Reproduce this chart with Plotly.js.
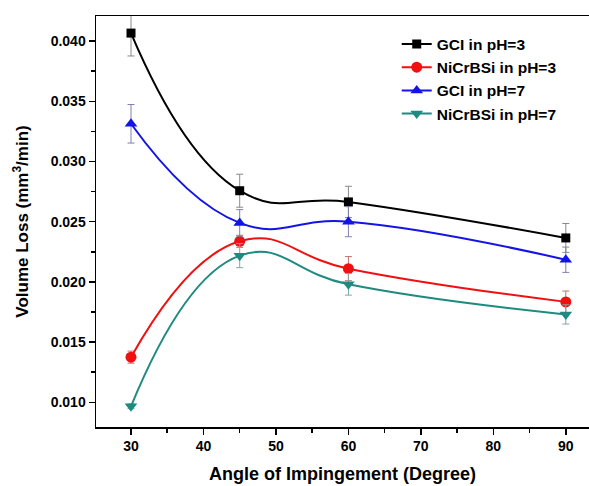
<!DOCTYPE html>
<html>
<head>
<meta charset="utf-8">
<script src="https://cdn.plot.ly/plotly-3.0.1.min.js"></script>
<style>html,body{margin:0;padding:0;background:#fff;}#chart{width:589px;height:486px;}</style>
</head>
<body>
<div id="chart"></div>
<script>
const angles = [30, 45, 60, 90];
const gciPH3 = [0.04066, 0.02757, 0.02664, 0.02365];
const gciPH3Err = [0.0019, 0.00137, 0.0013, 0.0012];
const nicrPH3 = [0.01375, 0.02337, 0.0211, 0.01834];
const nicrPH3Err = [0.0005, 0.0005, 0.001, 0.0009];
const gciPH7 = [0.03313, 0.0249, 0.0250, 0.02184];
const gciPH7Err = [0.0016, 0.0011, 0.00125, 0.00105];
const nicrPH7 = [0.00967, 0.02218, 0.0198, 0.0173];
const nicrPH7Err = [0.0002, 0.001, 0.0009, 0.0008];
const seriesNames = ['GCI in pH=3', 'NiCrBSi in pH=3', 'GCI in pH=7', 'NiCrBSi in pH=7'];

const defs = [
  {y: gciPH3, e: gciPH3Err, color: '#000000', ecolor: '#8a8a8a', symbol: 'square', size: 9},
  {y: nicrPH3, e: nicrPH3Err, color: '#f01010', ecolor: '#c07070', symbol: 'circle', size: 11},
  {y: gciPH7, e: gciPH7Err, color: '#1414e6', ecolor: '#8080b0', symbol: 'triangle-up', size: 11},
  {y: nicrPH7, e: nicrPH7Err, color: '#1f8a80', ecolor: '#80a8a4', symbol: 'triangle-down', size: 11}
];

const traces = defs.map((d, i) => ({
  x: angles, y: d.y, name: seriesNames[i], type: 'scatter', mode: 'lines+markers',
  line: {color: d.color, width: 2, shape: 'spline', smoothing: 1.3},
  marker: {color: d.color, symbol: d.symbol, size: d.size},
  error_y: {type: 'data', array: d.e, visible: true, color: d.ecolor, thickness: 1, width: 3.5}
}));

const fontFam = '"Liberation Sans", Arial, sans-serif';
const layout = {
  width: 589, height: 486,
  margin: {l: 96, r: 0, t: 16, b: 59},
  paper_bgcolor: '#fff', plot_bgcolor: '#fff',
  showlegend: true,
  legend: {x: 0.61, y: 0.972, xanchor: 'left', yanchor: 'top', bgcolor: 'rgba(0,0,0,0)',
    font: {family: fontFam, size: 15.5, color: '#000', weight: 'bold'}, tracegroupgap: 0},
  font: {family: fontFam, color: '#000'},
  xaxis: {
    range: [25.17, 93.2], tickvals: [30, 40, 50, 60, 70, 80, 90],
    ticks: 'outside', ticklen: 6, tickwidth: 1.5, tickcolor: '#000',
    minor: {dtick: 5, tick0: 25, ticks: 'outside', ticklen: 4, tickwidth: 1.5, tickcolor: '#000', showgrid: false},
    showline: true, linecolor: '#000', linewidth: 1.5, mirror: true,
    showgrid: false, zeroline: false,
    tickfont: {family: fontFam, size: 14, weight: 'bold'},
    title: {text: 'Angle of Impingement (Degree)', font: {family: fontFam, size: 18, weight: 'bold'}, standoff: 14}
  },
  yaxis: {
    range: [0.00795, 0.04208], tickvals: [0.010, 0.015, 0.020, 0.025, 0.030, 0.035, 0.040],
    tickformat: '.3f',
    ticks: 'outside', ticklen: 6, tickwidth: 1.5, tickcolor: '#000',
    minor: {dtick: 0.0025, tick0: 0.0075, ticks: 'outside', ticklen: 4, tickwidth: 1.5, tickcolor: '#000', showgrid: false},
    showline: true, linecolor: '#000', linewidth: 1.5, mirror: true,
    showgrid: false, zeroline: false,
    tickfont: {family: fontFam, size: 14, weight: 'bold'},
    title: {text: 'Volume Loss (mm<sup>3</sup>/min)', font: {family: fontFam, size: 17, weight: 'bold'}, standoff: 17}
  }
};

Plotly.newPlot('chart', traces, layout, {displayModeBar: false, staticPlot: true});
</script>
</body>
</html>
